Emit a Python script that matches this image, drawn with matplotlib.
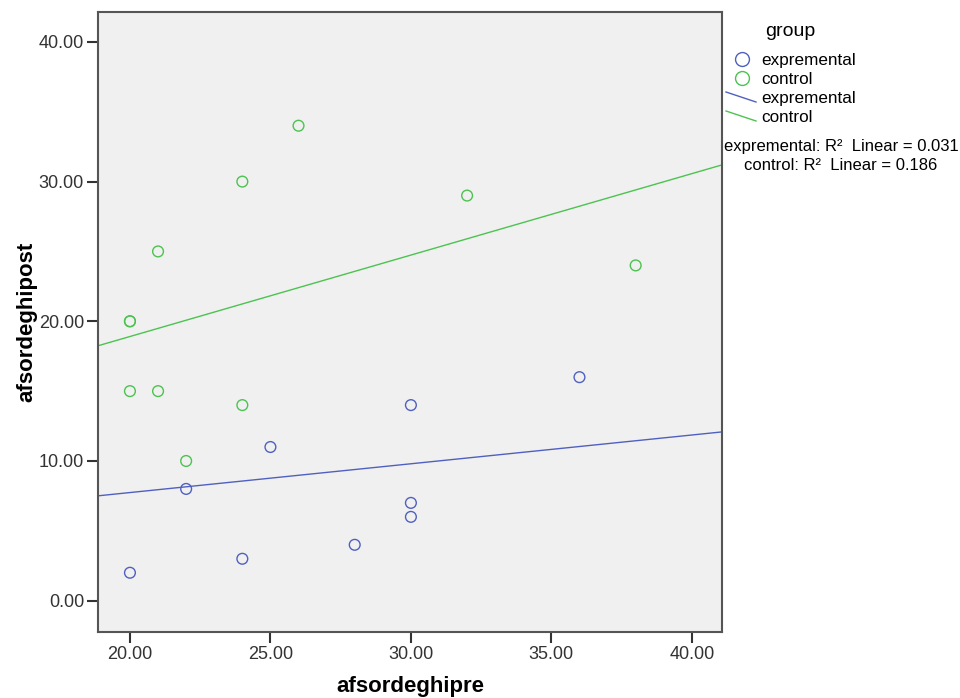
import matplotlib.pyplot as plt
from matplotlib.lines import Line2D
import numpy as np

plt.rcParams["font.family"] = ["Liberation Sans", "DejaVu Sans"]

# scatter data
exp_pre = [20, 22, 24, 25, 28, 30, 30, 30, 36]
exp_post = [2, 8, 3, 11, 4, 14, 7, 6, 16]
ctl_pre = [20, 20, 20, 21, 21, 22, 24, 24, 26, 32, 38]
ctl_post = [20, 20, 15, 25, 15, 10, 30, 14, 34, 29, 24]

# fitted lines (intercept, slope) as shown in the chart
exp_fit = (3.62, 0.206)
ctl_fit = (7.25, 0.583)
r2_labels = ["expremental: R²  Linear = 0.031", "control: R²  Linear = 0.186"]

x_ticks = [20, 25, 30, 35, 40]
y_ticks = [0, 10, 20, 30, 40]

BLUE = "#5060c0"
GREEN = "#4cc350"

fig = plt.figure(figsize=(9.6, 6.98), dpi=100)
ax = fig.add_axes([0.102, 0.095, 0.650, 0.888])
ax.set_facecolor("#f0f0f0")

ax.scatter(exp_pre, exp_post, s=60, facecolors="none", edgecolors=BLUE, linewidths=1.0, zorder=3)
ax.scatter(ctl_pre, ctl_post, s=60, facecolors="none", edgecolors=GREEN, linewidths=1.0, zorder=3)

xlim = (18.86, 41.07)
xs = np.array(xlim)
ax.plot(xs, exp_fit[0] + exp_fit[1] * xs, color=BLUE, lw=1.0, zorder=2)
ax.plot(xs, ctl_fit[0] + ctl_fit[1] * xs, color=GREEN, lw=1.0, zorder=2)

ax.set_xlim(*xlim)
ax.set_ylim(-2.22, 42.15)
ax.set_xticks(x_ticks)
ax.set_yticks(y_ticks)
ax.set_xticklabels([f"{v:.2f}" for v in x_ticks], fontsize=13, color="#333333")
ax.set_yticklabels([f"{v:.2f}" for v in y_ticks], fontsize=13, color="#333333")
ax.tick_params(direction="out", length=8, width=1.5, color="#333333", pad=2)
for sp in ax.spines.values():
    sp.set_color("#555555")
    sp.set_linewidth(1.5)

ax.set_xlabel("afsordeghipre", fontsize=16, fontweight="bold", labelpad=10)
ax.set_ylabel("afsordeghipost", fontsize=16, fontweight="bold", labelpad=1)

# legend drawn by hand to the right of the plot
W, H = 960, 698
def fx(px):
    return px / W
def fy(py):
    return 1 - py / H

fig.text(fx(765), fy(32), "group", fontsize=14, va="center", ha="left")
fig.add_artist(Line2D([fx(742)], [fy(59)], marker="o", ms=10, mfc="none", mec=BLUE, mew=1.0, ls="none"))
fig.add_artist(Line2D([fx(742)], [fy(78)], marker="o", ms=10, mfc="none", mec=GREEN, mew=1.0, ls="none"))
fig.add_artist(Line2D([fx(726), fx(756)], [fy(92), fy(102)], color=BLUE, lw=1.0))
fig.add_artist(Line2D([fx(726), fx(756)], [fy(111), fy(121)], color=GREEN, lw=1.0))
for py, label in zip([60, 79, 98, 117], ["expremental", "control", "expremental", "control"]):
    fig.text(fx(761), fy(py), label, fontsize=12.3, va="center", ha="left")
for py, label in zip([147, 165], r2_labels):
    fig.text(fx(841), fy(py), label, fontsize=12, va="center", ha="center")

fig.savefig("out.png", dpi=100)
